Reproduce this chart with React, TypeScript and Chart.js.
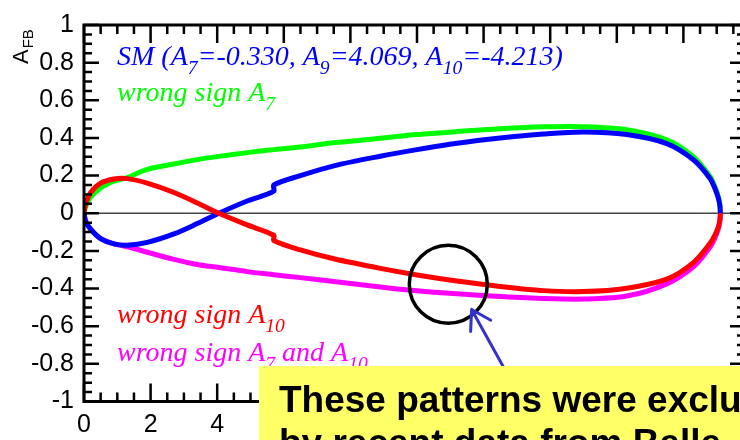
import { useEffect, useRef } from 'react';
import { Chart, registerables } from 'chart.js';

Chart.register(...registerables);

// q^2 sampling points (GeV^2); the doubled entry at 5.7 carries the step of the SM / A10 curves
const q2 = [0, 0.05, 0.2, 0.5, 0.9, 1.3, 1.9, 2.7, 3.4, 4.05, 4.9, 5.7, 5.7, 6.5, 7.5, 8.9, 10.0, 11.2, 12.5, 13.8, 15.0, 16.3, 17.5, 18.3, 18.8, 18.95, 19.05, 19.09, 19.105, 19.11];

const afbSM = [0, -0.045, -0.085, -0.135, -0.163, -0.17, -0.155, -0.11, -0.055, 0, 0.065, 0.117, 0.15, 0.2, 0.252, 0.303, 0.338, 0.372, 0.4, 0.421, 0.432, 0.418, 0.37, 0.284, 0.185, 0.13, 0.08, 0.047, 0.022, 0];
const afbWrongA7 = [0, 0.035, 0.085, 0.135, 0.17, 0.19, 0.233, 0.262, 0.285, 0.302, 0.322, 0.338, 0.338, 0.352, 0.374, 0.398, 0.418, 0.434, 0.449, 0.459, 0.46, 0.444, 0.39, 0.3, 0.195, 0.14, 0.088, 0.05, 0.024, 0];
const afbWrongA10 = [0, 0.05, 0.11, 0.16, 0.182, 0.184, 0.16, 0.11, 0.055, 0, -0.062, -0.117, -0.145, -0.195, -0.242, -0.293, -0.328, -0.36, -0.389, -0.411, -0.416, -0.398, -0.35, -0.262, -0.16, -0.115, -0.072, -0.042, -0.02, 0];
const afbWrongA7A10 = [0, -0.04, -0.085, -0.135, -0.163, -0.178, -0.207, -0.245, -0.272, -0.288, -0.31, -0.327, -0.327, -0.342, -0.362, -0.392, -0.412, -0.428, -0.442, -0.453, -0.456, -0.44, -0.375, -0.285, -0.18, -0.13, -0.082, -0.047, -0.023, 0];

const X_MAX = 19.85;
const xLabelStep = 2;
const xMinorStep = 0.5;
const yLabelStep = 0.2;
const yMinorStep = 0.05;

const SANS = "'Liberation Sans', Arial, sans-serif";
const SERIF = "'Liberation Serif', 'Times New Roman', serif";

type Part = [string, boolean?];
const legendRows: { parts: Part[]; color: string; y: number }[] = [
  { parts: [['SM (A'], ['7', true], ['=-0.330, A'], ['9', true], ['=4.069, A'], ['10', true], ['=-4.213)']], color: '#0000ff', y: 65 },
  { parts: [['wrong sign A'], ['7', true]], color: '#00ff00', y: 101 },
  { parts: [['wrong sign A'], ['10', true]], color: '#ff0000', y: 323 },
  { parts: [['wrong sign A'], ['7', true], [' and A'], ['10', true]], color: '#ff00ff', y: 361 },
];

const noteLines = ['These patterns were excluded', 'by recent data from Belle'];

// where the highlighted region and the arrow tip sit, in data units
const ringCenter = { x: 10.94, y: -0.377 };
const arrowTip = { x: 11.64, y: -0.511 };
const arrowTail = { x: 12.7, y: -0.85 };

function drawRich(ctx: CanvasRenderingContext2D, parts: Part[], x: number, y: number, size: number) {
  let cx = x;
  for (const [text, sub] of parts) {
    const fs = sub ? size * 0.7 : size;
    ctx.font = `italic ${fs}px ${SERIF}`;
    ctx.fillText(text, cx, sub ? y + size * 0.32 : y);
    cx += ctx.measureText(text).width;
  }
}

const decorations = {
  id: 'decorations',
  beforeDatasetsDraw(chart: any) {
    const { ctx, chartArea: a, scales } = chart;
    const y0 = scales.y.getPixelForValue(0);
    ctx.save();
    ctx.strokeStyle = '#444';
    ctx.lineWidth = 1.6;
    ctx.beginPath();
    ctx.moveTo(a.left, y0);
    ctx.lineTo(a.right, y0);
    ctx.stroke();
    ctx.restore();
  },
  afterDraw(chart: any) {
    const { ctx, chartArea: a, scales } = chart;
    const sx = scales.x;
    const sy = scales.y;
    ctx.save();

    // ticks on all four sides, pointing inward
    ctx.strokeStyle = '#000';
    ctx.lineWidth = 2.5;
    ctx.beginPath();
    for (let i = 0; i * xMinorStep <= X_MAX + 1e-9; i++) {
      const v = i * xMinorStep;
      const px = sx.getPixelForValue(v);
      const major = Math.abs(v / xLabelStep - Math.round(v / xLabelStep)) < 1e-6;
      const len = major ? 18 : 9;
      ctx.moveTo(px, a.bottom);
      ctx.lineTo(px, a.bottom - len);
      ctx.moveTo(px, a.top);
      ctx.lineTo(px, a.top + len);
    }
    for (let i = 0; i <= 40; i++) {
      const v = -1 + i * yMinorStep;
      const py = sy.getPixelForValue(v);
      const major = i % Math.round(yLabelStep / yMinorStep) === 0;
      const len = major ? 15 : 8;
      ctx.moveTo(a.left, py);
      ctx.lineTo(a.left + len, py);
      ctx.moveTo(a.right, py);
      ctx.lineTo(a.right - len, py);
    }
    ctx.stroke();

    // frame
    ctx.lineWidth = 3;
    ctx.strokeRect(a.left, a.top, a.right - a.left, a.bottom - a.top);

    // y axis title A_FB
    ctx.fillStyle = '#000';
    ctx.translate(28, 64);
    ctx.rotate(-Math.PI / 2);
    ctx.font = `22px ${SANS}`;
    ctx.textBaseline = 'alphabetic';
    ctx.fillText('A', 0, 0);
    const aw = ctx.measureText('A').width;
    ctx.font = `15px ${SANS}`;
    ctx.fillText('FB', aw + 1, 5);
    ctx.setTransform(1, 0, 0, 1, 0, 0);

    // curve labels
    for (const row of legendRows) {
      ctx.fillStyle = row.color;
      drawRich(ctx, row.parts, 117, row.y, 28);
    }

    // ring around the region of interest
    ctx.strokeStyle = '#000';
    ctx.lineWidth = 3.5;
    ctx.beginPath();
    ctx.arc(sx.getPixelForValue(ringCenter.x), sy.getPixelForValue(ringCenter.y), 39, 0, Math.PI * 2);
    ctx.stroke();

    // arrow pointing at the ring
    const tx = sx.getPixelForValue(arrowTip.x);
    const ty = sy.getPixelForValue(arrowTip.y);
    const bx = sx.getPixelForValue(arrowTail.x);
    const by = sy.getPixelForValue(arrowTail.y);
    const ang = Math.atan2(ty - by, tx - bx);
    ctx.strokeStyle = '#3333cc';
    ctx.lineWidth = 3;
    ctx.lineCap = 'round';
    ctx.beginPath();
    ctx.moveTo(bx, by);
    ctx.lineTo(tx, ty);
    for (const d of [-0.55, 0.55]) {
      ctx.moveTo(tx, ty);
      ctx.lineTo(tx - 22 * Math.cos(ang + d), ty - 22 * Math.sin(ang + d));
    }
    ctx.stroke();

    // yellow note box
    ctx.fillStyle = '#ffff66';
    ctx.fillRect(259, 366, 520, 120);
    ctx.fillStyle = '#000';
    ctx.font = `bold 37px ${SANS}`;
    noteLines.forEach((line, i) => ctx.fillText(line, 279, 412 + i * 43));

    ctx.restore();
  },
};

export default function App() {
  const ref = useRef<HTMLCanvasElement | null>(null);

  useEffect(() => {
    if (!ref.current) return;
    const mk = (ys: number[]) => q2.map((x, i) => ({ x, y: ys[i] }));
    const chart = new Chart(ref.current, {
      type: 'line',
      data: {
        datasets: [
          { label: 'wrong sign A10', data: mk(afbWrongA10), borderColor: '#ff0000', order: 0 },
          { label: 'SM', data: mk(afbSM), borderColor: '#0000ff', order: 1 },
          { label: 'wrong sign A7 and A10', data: mk(afbWrongA7A10), borderColor: '#ff00ff', order: 2 },
          { label: 'wrong sign A7', data: mk(afbWrongA7), borderColor: '#00ff00', order: 3 },
        ],
      },
      options: {
        responsive: false,
        animation: false,
        devicePixelRatio: 1,
        layout: { padding: { top: 20.5, right: 15, left: 0, bottom: 0 } },
        plugins: { legend: { display: false }, tooltip: { enabled: false } },
        elements: {
          point: { radius: 0 },
          line: { borderWidth: 5, tension: 0.3, fill: false },
        },
        scales: {
          x: {
            type: 'linear',
            min: 0,
            max: X_MAX,
            grid: { display: false, drawTicks: false },
            border: { display: false },
            ticks: {
              stepSize: xLabelStep,
              includeBounds: false,
              padding: 9,
              color: '#000',
              font: { size: 25, family: SANS },
              callback: (v: any) => String(v),
            },
            afterFit: (s: any) => { s.height = 38.5; },
          },
          y: {
            min: -1,
            max: 1,
            grid: { display: false, drawTicks: false },
            border: { display: false },
            ticks: {
              stepSize: yLabelStep,
              padding: 10,
              color: '#000',
              font: { size: 25, family: SANS },
              callback: (v: any) => String(Math.round(Number(v) * 10) / 10),
            },
            afterFit: (s: any) => { s.width = 84; },
          },
        },
      },
      plugins: [decorations],
    });
    return () => chart.destroy();
  }, []);

  return (
    <div style={{ position: 'fixed', left: 0, top: 0, width: 740, height: 440, overflow: 'hidden', background: '#fff' }}>
      <canvas ref={ref} width={760} height={440} style={{ display: 'block', width: 760, height: 440 }} />
    </div>
  );
}
